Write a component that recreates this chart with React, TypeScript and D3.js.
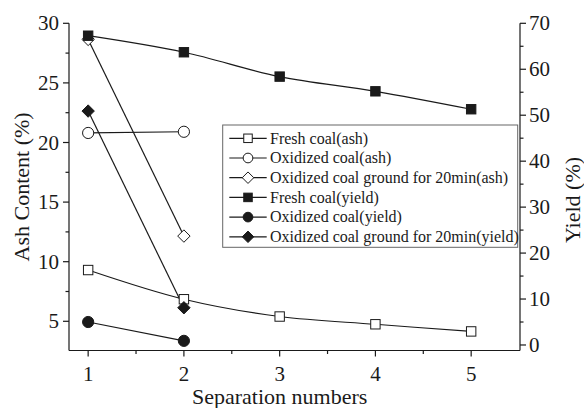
import React from "react";
import * as d3 from "d3";

const separations = [1, 2, 3, 4, 5];
const freshAsh = [9.3, 6.85, 5.4, 4.75, 4.15];
const oxidizedAsh = [20.8, 20.9];
const groundAsh = [28.65, 12.15];
const freshYield = [67.3, 63.7, 58.4, 55.2, 51.3];
const oxidizedYield = [5.0, 0.9];
const groundYield = [50.9, 8.1];

const xTicks = [1, 2, 3, 4, 5];
const xMinor = [1.5, 2.5, 3.5, 4.5];
const ashTicks = [5, 10, 15, 20, 25, 30];
const ashMinor = [7.5, 12.5, 17.5, 22.5, 27.5];
const yieldTicks = [0, 10, 20, 30, 40, 50, 60, 70];
const yieldMinor = [5, 15, 25, 35, 45, 55, 65];

const legendLabels = [
  "Fresh coal(ash)",
  "Oxidized coal(ash)",
  "Oxidized coal ground for 20min(ash)",
  "Fresh coal(yield)",
  "Oxidized coal(yield)",
  "Oxidized coal ground for 20min(yield)",
];

type Shape = "square" | "circle" | "diamond";

const W = 584;
const H = 408;
const LEFT = 69;
const RIGHT = 520;
const TOP = 23.3;
const BOTTOM = 350.5;

const x = d3.scaleLinear().domain([0.8, 5.51]).range([LEFT, RIGHT]);
const yAsh = d3.scaleLinear().domain([2.55, 30]).range([BOTTOM, TOP]);
const yYield = d3.scaleLinear().domain([-1.2, 70]).range([BOTTOM, TOP]);

const INK = "#1a1a1a";
const FONT = '"Liberation Serif", "DejaVu Serif", serif';

function Marker({ shape, filled, cx, cy, size }: { shape: Shape; filled: boolean; cx: number; cy: number; size: number }) {
  const fill = filled ? INK : "#fff";
  if (shape === "square") {
    return <rect x={cx - size / 2} y={cy - size / 2} width={size} height={size} fill={fill} stroke={INK} strokeWidth={1} />;
  }
  if (shape === "circle") {
    return <circle cx={cx} cy={cy} r={size / 2 + 0.6} fill={fill} stroke={INK} strokeWidth={1} />;
  }
  const h = size / 2 + 1.5;
  return (
    <path
      d={`M${cx},${cy - h}L${cx + h},${cy}L${cx},${cy + h}L${cx - h},${cy}Z`}
      fill={fill}
      stroke={INK}
      strokeWidth={1}
    />
  );
}

const seriesList: { values: number[]; axis: "ash" | "yield"; shape: Shape; filled: boolean; curved: boolean }[] = [
  { values: freshAsh, axis: "ash", shape: "square", filled: false, curved: true },
  { values: oxidizedAsh, axis: "ash", shape: "circle", filled: false, curved: false },
  { values: groundAsh, axis: "ash", shape: "diamond", filled: false, curved: false },
  { values: freshYield, axis: "yield", shape: "square", filled: true, curved: true },
  { values: oxidizedYield, axis: "yield", shape: "circle", filled: true, curved: false },
  { values: groundYield, axis: "yield", shape: "diamond", filled: true, curved: false },
];

const textStyle = { fontFamily: FONT };

export default function App() {
  const series = seriesList.map((s) => {
    const yS = s.axis === "ash" ? yAsh : yYield;
    const pts: [number, number][] = s.values.map((v, i) => [x(separations[i]), yS(v)]);
    const line = d3
      .line<[number, number]>()
      .x((d) => d[0])
      .y((d) => d[1])
      .curve(s.curved ? d3.curveCatmullRom.alpha(0.5) : d3.curveLinear);
    return { ...s, pts, path: line(pts) || "" };
  });

  const legX = 222.7;
  const legY = 125;
  const legW = 295;
  const legH = 122.3;
  const rowY = (i: number) => 138.3 + i * 19.7;

  return (
    <svg width={W} height={H} style={{ position: "absolute", left: 0, top: 0, background: "#fff" }}>
      <rect x={0} y={0} width={W} height={H} fill="#fff" />
      {series.map((s, i) => (
        <path key={"l" + i} d={s.path} fill="none" stroke={INK} strokeWidth={1.2} />
      ))}
      {series.map((s, i) =>
        s.pts.map((p, j) => (
          <Marker key={"m" + i + "-" + j} shape={s.shape} filled={s.filled} cx={p[0]} cy={p[1]} size={s.shape === "circle" ? 10 : 9.4} />
        ))
      )}

      <g stroke={INK} strokeWidth={1.2} fill="none">
        <line x1={LEFT} y1={BOTTOM} x2={RIGHT} y2={BOTTOM} />
        <line x1={LEFT} y1={TOP} x2={LEFT} y2={BOTTOM} />
        <line x1={RIGHT} y1={yYield(70)} x2={RIGHT} y2={BOTTOM} />
        {xTicks.map((t) => (
          <line key={"xt" + t} x1={x(t)} x2={x(t)} y1={BOTTOM} y2={BOTTOM + 6} />
        ))}
        {xMinor.map((t) => (
          <line key={"xm" + t} x1={x(t)} x2={x(t)} y1={BOTTOM} y2={BOTTOM + 3.5} />
        ))}
        {ashTicks.map((t) => (
          <line key={"at" + t} x1={LEFT - 6} x2={LEFT} y1={yAsh(t)} y2={yAsh(t)} />
        ))}
        {ashMinor.map((t) => (
          <line key={"am" + t} x1={LEFT - 3.5} x2={LEFT} y1={yAsh(t)} y2={yAsh(t)} />
        ))}
        {yieldTicks.map((t) => (
          <line key={"yt" + t} x1={RIGHT} x2={RIGHT + 6} y1={yYield(t)} y2={yYield(t)} />
        ))}
        {yieldMinor.map((t) => (
          <line key={"ym" + t} x1={RIGHT} x2={RIGHT + 3.5} y1={yYield(t)} y2={yYield(t)} />
        ))}
      </g>

      <g fill={INK} fontSize={21} style={textStyle}>
        {xTicks.map((t) => (
          <text key={"xl" + t} x={x(t)} y={380.7} textAnchor="middle" style={textStyle}>
            {t}
          </text>
        ))}
        {ashTicks.map((t) => (
          <text key={"al" + t} x={59} y={yAsh(t)} dy="0.34em" textAnchor="end" style={textStyle}>
            {t}
          </text>
        ))}
        {yieldTicks.map((t) => (
          <text key={"yl" + t} x={529} y={yYield(t)} dy="0.34em" textAnchor="start" style={textStyle}>
            {t}
          </text>
        ))}
      </g>

      <g fill={INK} fontSize={22} style={textStyle}>
        <text x={(x(1) + x(5)) / 2} y={404} textAnchor="middle" style={textStyle}>
          Separation numbers
        </text>
        <text transform={`translate(29, ${(TOP + BOTTOM) / 2}) rotate(-90)`} textAnchor="middle" style={textStyle}>
          Ash Content (%)
        </text>
        <text transform={`translate(580, 200) rotate(-90)`} textAnchor="middle" style={textStyle}>
          Yield (%)
        </text>
      </g>

      <rect x={legX} y={legY} width={legW} height={legH} fill="#fff" stroke="#666" strokeWidth={1} />
      {seriesList.map((s, i) => (
        <g key={"lg" + i}>
          <line x1={229.3} x2={266.7} y1={rowY(i)} y2={rowY(i)} stroke={INK} strokeWidth={1.2} />
          <Marker shape={s.shape} filled={s.filled} cx={248} cy={rowY(i)} size={8.5} />
          <text x={270} y={rowY(i)} dy="0.33em" fontSize={16} fill={INK} style={textStyle}>
            {legendLabels[i]}
          </text>
        </g>
      ))}
    </svg>
  );
}
